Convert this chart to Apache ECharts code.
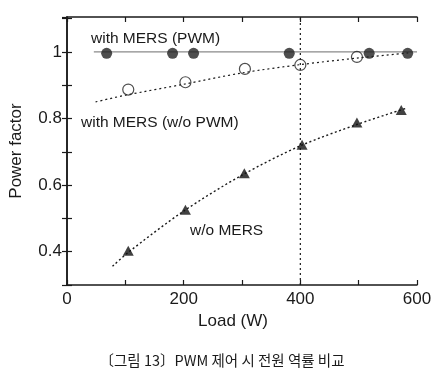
<!DOCTYPE html>
<html><head><meta charset="utf-8">
<script src="https://cdn.jsdelivr.net/npm/echarts@6/dist/echarts.min.js"></script>
<style>html,body{margin:0;padding:0;background:#fff}#c{width:446px;height:379px}</style>
</head><body><div id="c"></div>
<script>
// Data
const pwmLoad = [68, 181, 217, 381, 518, 584];
const pwmPF = [0.996, 0.996, 0.996, 0.996, 0.996, 0.996];
const pwmRefLine = [[46, 1.0], [600, 1.0]];
const noPwmLoad = [105, 203, 305, 400, 497];
const noPwmPF = [0.887, 0.909, 0.949, 0.961, 0.985];
const noPwmFitLoad = [49, 100, 200, 300, 400, 500, 585];
const noPwmFitPF = [0.850, 0.870, 0.903, 0.937, 0.962, 0.982, 0.997];
const noMersLoad = [105, 203, 304, 403, 497, 573];
const noMersPF = [0.403, 0.526, 0.636, 0.721, 0.788, 0.826];
const noMersFitLoad = [78, 105, 200, 300, 400, 500, 580];
const noMersFitPF = [0.356, 0.398, 0.522, 0.630, 0.718, 0.784, 0.830];
const xTickLabels = [0, 200, 400, 600];
const yTickLabels = [0.4, 0.6, 0.8, 1];
const refLoad = 400;

const zip = (a, b) => a.map((v, i) => [v, b[i]]);
const near = (v, arr) => arr.some(t => Math.abs(v - t) < 1e-6);
const ink = '#1a1a1a';
const font = 'Liberation Sans, Arial, sans-serif';

const chart = echarts.init(document.getElementById('c'), null, {renderer: 'canvas'});
const xBase = {type: 'value', min: 0, max: 600, interval: 100,
  axisLine: {show: true, lineStyle: {color: ink, width: 1.5}},
  axisTick: {show: true, inside: true, length: 5, lineStyle: {color: ink, width: 1.2}},
  splitLine: {show: false}};
const yBase = {type: 'value', min: 0.3, max: 1.105, interval: 0.1,
  axisLine: {show: true, lineStyle: {color: ink, width: 1.5}},
  axisTick: {show: true, inside: true, length: 5, lineStyle: {color: ink, width: 1.2}},
  splitLine: {show: false}};

chart.setOption({
  animation: false,
  grid: {left: 56, right: 29, top: 17, bottom: 94},
  xAxis: [
    Object.assign({}, xBase, {position: 'bottom',
      name: 'Load (W)', nameLocation: 'middle', nameGap: 28,
      nameTextStyle: {color: ink, fontSize: 17, fontFamily: font, padding: [0, 18, 0, 0]},
      axisLabel: {color: ink, fontSize: 17, fontFamily: font, margin: 6, showMaxLabel: true,
        formatter: v => near(v, xTickLabels) ? String(v) : ''}}),
    Object.assign({}, xBase, {position: 'top', axisLabel: {show: false}})
  ],
  yAxis: [
    Object.assign({}, yBase, {position: 'left',
      name: 'Power factor', nameLocation: 'middle', nameGap: 42,
      nameTextStyle: {color: ink, fontSize: 17, fontFamily: font},
      axisLabel: {color: ink, fontSize: 17, fontFamily: font, margin: 5, showMaxLabel: false,
        formatter: v => near(v, yTickLabels) ? String(Math.round(v * 10) / 10) : ''}}),
    Object.assign({}, yBase, {position: 'right', axisLabel: {show: false}})
  ],
  series: [
    {type: 'line', data: [[refLoad, 0.3], [refLoad, 1.105]], symbol: 'none',
      lineStyle: {color: ink, width: 1.2, type: [2, 3]}, z: 1},
    {type: 'line', data: pwmRefLine, symbol: 'none',
      lineStyle: {color: '#8a8a8a', width: 1.2}, z: 2},
    {type: 'line', data: zip(noPwmFitLoad, noPwmFitPF), symbol: 'none', smooth: 0.3,
      lineStyle: {color: ink, width: 1.2, type: [2, 3]}, z: 2},
    {type: 'line', data: zip(noMersFitLoad, noMersFitPF), symbol: 'none', smooth: 0.3,
      lineStyle: {color: ink, width: 1.4, type: [2, 2.5]}, z: 2},
    {type: 'scatter', data: zip(pwmLoad, pwmPF), symbol: 'circle', symbolSize: 11,
      itemStyle: {color: '#222'}, z: 3},
    {type: 'scatter', data: zip(noPwmLoad, noPwmPF), symbol: 'circle', symbolSize: 11,
      itemStyle: {color: 'rgba(255,255,255,0)', borderColor: '#222', borderWidth: 1.2}, z: 3},
    {type: 'scatter', data: zip(noMersLoad, noMersPF), symbol: 'triangle', symbolSize: [11, 10],
      itemStyle: {color: '#111'}, z: 3}
  ],
  graphic: [
    {type: 'text', left: 91, top: 31, style: {text: 'with MERS (PWM)', fill: ink, font: '15.5px ' + font}},
    {type: 'text', left: 81, top: 115, style: {text: 'with MERS (w/o PWM)', fill: ink, font: '15.5px ' + font}},
    {type: 'text', left: 190, top: 223, style: {text: 'w/o MERS', fill: ink, font: '15.5px ' + font}},
    {type: 'text', x: 222, y: 360, style: {text: '〔그림 13〕PWM 제어 시 전원 역률 비교', fill: ink,
      align: 'center', verticalAlign: 'middle',
      font: '14.5px "Noto Sans CJK KR", sans-serif'}}
  ]
});
</script></body></html>
